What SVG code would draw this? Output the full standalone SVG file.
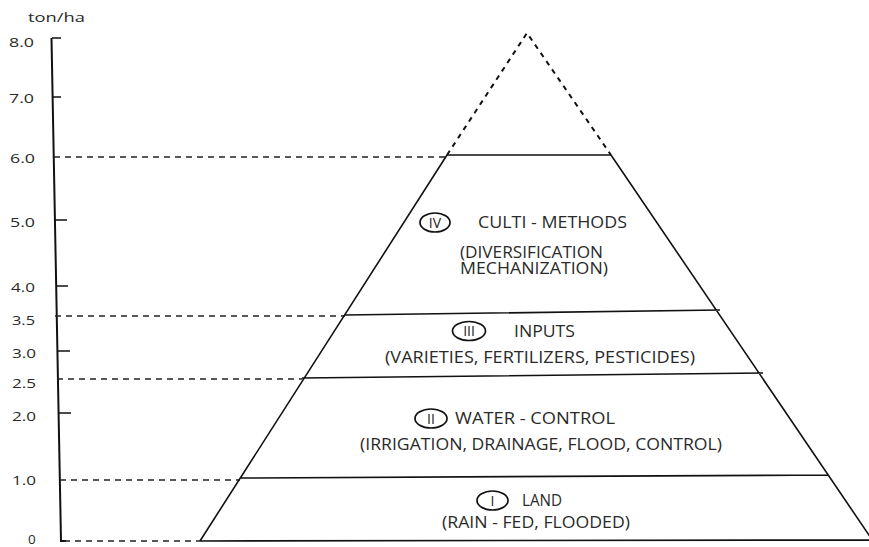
<svg xmlns="http://www.w3.org/2000/svg" width="869" height="547" viewBox="0 0 869 547">
<style>
.ax{stroke:#111;stroke-width:2;fill:none}
.ln{stroke:#111;stroke-width:1.6;fill:none}
.dash{stroke:#222;stroke-width:1.5;stroke-dasharray:6,5;fill:none}
.dot{stroke:#111;stroke-width:2;stroke-dasharray:5,5;fill:none}
.t{font-family:"Open Sans","Liberation Sans",sans-serif;font-size:15.5px;fill:#2a2a2a}
.yl{font-family:"Open Sans","Liberation Sans",sans-serif;font-size:13.5px;fill:#2a2a2a}
.n{font-family:"Open Sans","Liberation Sans",sans-serif;font-size:14px;fill:#222;text-anchor:middle}
.c{stroke:#111;stroke-width:1.7;fill:none}
</style>
<rect width="869" height="547" fill="#fff"/>
<g id="axis">
<text class="yl" x="28" y="21.5" textLength="57" lengthAdjust="spacingAndGlyphs">ton/ha</text>
<path class="ax" d="M51.5,38 L61,541 L66,541"/>
<path class="ln" d="M52,38 H61 M53,97 H61 M55,220 H67 M57,286 H68 M58,351 H70 M59,413 H71"/>
<text class="yl" x="9" y="47" textLength="25" lengthAdjust="spacingAndGlyphs">8.0</text>
<text class="yl" x="9" y="103" textLength="25" lengthAdjust="spacingAndGlyphs">7.0</text>
<text class="yl" x="10" y="162.5" textLength="25" lengthAdjust="spacingAndGlyphs">6.0</text>
<text class="yl" x="10" y="226.5" textLength="25" lengthAdjust="spacingAndGlyphs">5.0</text>
<text class="yl" x="11" y="291.5" textLength="24" lengthAdjust="spacingAndGlyphs">4.0</text>
<text class="yl" x="12" y="324.5" textLength="23" lengthAdjust="spacingAndGlyphs">3.5</text>
<text class="yl" x="12" y="357.5" textLength="24" lengthAdjust="spacingAndGlyphs">3.0</text>
<text class="yl" x="12" y="387.5" textLength="24" lengthAdjust="spacingAndGlyphs">2.5</text>
<text class="yl" x="12" y="420.5" textLength="24" lengthAdjust="spacingAndGlyphs">2.0</text>
<text class="yl" x="12" y="484.5" textLength="24" lengthAdjust="spacingAndGlyphs">1.0</text>
<text class="yl" x="28" y="544">0</text>
</g>
<g id="connectors">
<path class="dash" d="M54,157 H447 M55,316 H345 M57,379 H302 M60,480 H240 M64,541 H200"/>
<path class="dot" d="M447,155 L527,33 L611,155"/>
</g>
<g id="pyramid">
<path class="ln" d="M447,155 L200,541 M611,155 L873,541 M447,155 H611 M345,315 L720,310 M302,378 L763,373 M240,478 L828,475 M200,541 L869,540"/>
</g>
<g id="level4">
<ellipse class="c" cx="435" cy="222.5" rx="15" ry="9.5"/>
<text class="n" x="435" y="227.5">IV</text>
<text class="t" x="478" y="228" textLength="149" lengthAdjust="spacingAndGlyphs">CULTI - METHODS</text>
<text class="t" x="460" y="257.5" textLength="143" lengthAdjust="spacingAndGlyphs" font-size="15">(DIVERSIFICATION</text>
<text class="t" x="460" y="273.5" textLength="148" lengthAdjust="spacingAndGlyphs" font-size="15">MECHANIZATION)</text>
</g>
<g id="level3">
<ellipse class="c" cx="469" cy="331" rx="16.5" ry="9.5"/>
<text class="n" x="469" y="336">III</text>
<text class="t" x="514" y="336.5" textLength="61" lengthAdjust="spacingAndGlyphs">INPUTS</text>
<text class="t" x="385" y="362.5" textLength="310" lengthAdjust="spacingAndGlyphs">(VARIETIES, FERTILIZERS, PESTICIDES)</text>
</g>
<g id="level2">
<ellipse class="c" cx="431" cy="418.5" rx="16" ry="9.5"/>
<text class="n" x="431" y="423.5">II</text>
<text class="t" x="455" y="424" textLength="160" lengthAdjust="spacingAndGlyphs">WATER - CONTROL</text>
<text class="t" x="360" y="450" textLength="362" lengthAdjust="spacingAndGlyphs">(IRRIGATION, DRAINAGE, FLOOD, CONTROL)</text>
</g>
<g id="level1">
<ellipse class="c" cx="492.5" cy="500.5" rx="15.5" ry="9.5"/>
<text class="n" x="492.5" y="505.5">I</text>
<text class="t" x="522" y="505.5" textLength="40" lengthAdjust="spacingAndGlyphs">LAND</text>
<text class="t" x="442" y="527.5" textLength="188" lengthAdjust="spacingAndGlyphs">(RAIN - FED, FLOODED)</text>
</g>
</svg>
